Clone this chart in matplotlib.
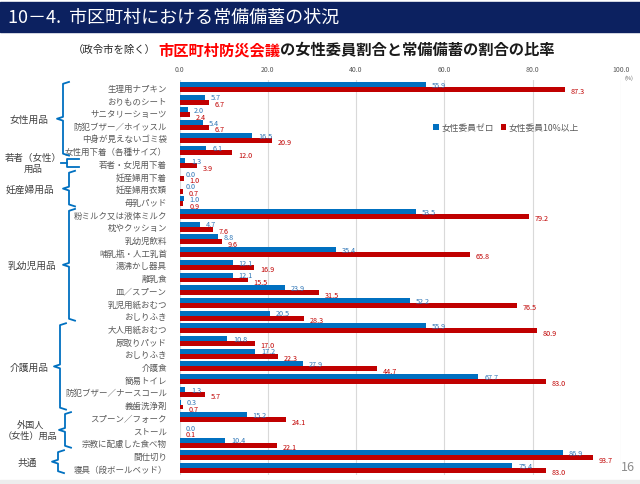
import matplotlib.pyplot as plt
import matplotlib.patches as patches
import numpy as np

plt.rcParams['font.family'] = ['Noto Sans CJK JP', 'DejaVu Sans']

items = ['生理用ナプキン', 'おりものシート', 'サニタリーショーツ', '防犯ブザー／ホイッスル',
         '中身が見えないゴミ袋', '女性用下着（各種サイズ）', '若者・女児用下着',
         '妊産婦用下着', '妊産婦用衣類', '母乳パッド',
         '粉ミルク又は液体ミルク', '枕やクッション', '乳幼児飲料', '哺乳瓶・人工乳首',
         '湯沸かし器具', '離乳食', '皿／スプーン', '乳児用紙おむつ', 'おしりふき',
         '大人用紙おむつ', '尿取りパッド', 'おしりふき', '介護食', '簡易トイレ',
         '防犯ブザー／ナースコール', '義歯洗浄剤',
         'スプーン／フォーク', 'ストール', '宗教に配慮した食べ物',
         '間仕切り', '寝具（段ボールベッド）']
zero_women = [55.9, 5.7, 2.0, 5.4, 16.5, 6.1, 1.3, 0.0, 0.0, 1.0,
              53.5, 4.7, 8.8, 35.4, 12.1, 12.1, 23.9, 52.2, 20.5,
              55.9, 10.8, 17.2, 27.9, 67.7, 1.3, 0.3,
              15.2, 0.0, 10.4, 86.9, 75.4]
over10_women = [87.3, 6.7, 2.4, 6.7, 20.9, 12.0, 3.9, 1.0, 0.7, 0.9,
                79.2, 7.6, 9.6, 65.8, 16.9, 15.5, 31.5, 76.5, 28.3,
                80.9, 17.0, 22.3, 44.7, 83.0, 5.7, 0.7,
                24.1, 0.1, 22.1, 93.7, 83.0]
# group name, first row, last row
groups = [('女性用品', 0, 5), ('若者（女性）\n用品', 6, 6), ('妊産婦用品', 7, 9),
          ('乳幼児用品', 10, 18), ('介護用品', 19, 25),
          ('外国人\n（女性）用品', 26, 28), ('共通', 29, 30)]
ticks = [0, 20, 40, 60, 80, 100]

BLUE = '#0070C0'
RED = '#C00000'

fig = plt.figure(figsize=(6.4, 4.85), dpi=100)

# header bar
fig.patches.append(patches.Rectangle((0, 1 - 33 / 485), 1, 30 / 485, transform=fig.transFigure,
                                     color='#0C2160', zorder=0))
fig.patches.append(patches.Rectangle((0, 0), 1, 4 / 485, transform=fig.transFigure,
                                     color='#EDEDED', zorder=0))
fig.text(8 / 640, 1 - 18 / 485, '10－4.  市区町村における常備備蓄の状況', color='white',
         fontsize=13, va='center', ha='left')
fig.text(628 / 640, 1 - 468 / 485, '16', fontsize=9, color='#8C8C8C', ha='center', va='center')

# subtitle in pieces
sub_y = 1 - 50 / 485
t1 = fig.text(73 / 640, sub_y, '（政令市を除く）', fontsize=7.5, color='#262626',
              va='center', ha='left')
t2 = fig.text(0, 0, '市区町村防災会議', fontsize=11, color='#FF0000', fontweight='bold')
t3 = fig.text(0, 0, 'の女性委員割合と常備備蓄の割合の比率', fontsize=11, color='#1A1A1A',
              fontweight='bold')
fig.canvas.draw()
r = fig.canvas.get_renderer()
bb1 = t1.get_window_extent(r)
t2.set_position(((bb1.x1 + 2) / 640, sub_y))
t2.set_va('center')
fig.canvas.draw()
bb2 = t2.get_window_extent(r)
t3.set_position((bb2.x1 / 640, sub_y))
t3.set_va('center')

ax = fig.add_axes([179.5 / 640, 1 - 476 / 485, 441.5 / 640, 395 / 485])
y = np.arange(len(items))
h = 0.39
ax.barh(y - h / 2, zero_women, height=h, color=BLUE, label='女性委員ゼロ', zorder=3)
ax.barh(y + h / 2, over10_women, height=h, color=RED, label='女性委員10%以上', zorder=3)

for i in range(len(items)):
    ax.text(zero_women[i] + 1.3, y[i] - h / 2 + 0.02, f'{zero_women[i]:.1f}', fontsize=5.2,
            color='#2E75B6', va='center', ha='left', zorder=4)
    ax.text(over10_women[i] + 1.3, y[i] + h / 2 + 0.15, f'{over10_women[i]:.1f}', fontsize=5.2,
            color=RED, va='center', ha='left', zorder=4)

ax.set_xlim(0, 100)
ax.set_ylim(len(items) - 0.45, -0.55)
ax.set_xticks(ticks)
ax.set_xticklabels([f'{t:.1f}' for t in ticks])
ax.xaxis.tick_top()
ax.tick_params(axis='x', length=0, labelsize=5, labelcolor='#595959', pad=5)
ax.set_yticks(y)
ax.set_yticklabels(items)
ax.tick_params(axis='y', length=0, labelsize=6.1, labelcolor='#595959', pad=9)
for t in ticks:
    ax.axvline(t, color='#D9D9D9', lw=0.8, zorder=1)
for s in ax.spines.values():
    s.set_visible(False)
ax.text(101.8, -0.75, '(%)', fontsize=4, color='#595959', ha='center', va='center')

ax.legend(loc='center', bbox_to_anchor=(0.74, 0.88), ncol=2, frameon=False, fontsize=6.3,
          handlelength=0.6, handleheight=0.6, handletextpad=0.3, columnspacing=0.8,
          labelcolor='#595959')

# braces and group labels
tr = ax.get_yaxis_transform()
px = 1 / 441.5
brace_x = {'女性用品': 63, '若者（女性）\n用品': 67, '妊産婦用品': 69, '乳幼児用品': 69,
           '介護用品': 60, '外国人\n（女性）用品': 65, '共通': 58}
label_x = {'女性用品': 29, '若者（女性）\n用品': 33, '妊産婦用品': 30, '乳幼児用品': 32,
           '介護用品': 29, '外国人\n（女性）用品': 30, '共通': 27}
label_size = {'外国人\n（女性）用品': 6.6, '若者（女性）\n用品': 6.8}
for name, a, b in groups:
    bx = (brace_x[name] - 179.5) * px
    d = 6 * px
    top = a - 0.4
    bot = b + 0.4
    mid = (a + b) / 2
    if a == b:
        ax.plot([bx + 2 * d, bx, bx, bx + 2 * d], [top + 0.1, top + 0.1, bot - 0.1, bot - 0.1],
                transform=tr, color=BLUE, lw=1.3, clip_on=False)
        ax.plot([bx, bx - d], [mid, mid], transform=tr, color=BLUE, lw=1.3, clip_on=False)
    else:
        xs = [bx + d, bx, bx, bx - d, bx, bx, bx + d]
        ys = [top, top + 0.15, mid - 0.15, mid, mid + 0.15, bot - 0.15, bot]
        ax.plot(xs, ys, transform=tr, color=BLUE, lw=1.3, clip_on=False)
    lx = (label_x[name] - 179.5) * px
    ax.text(lx, mid, name, transform=tr, fontsize=label_size.get(name, 7), color='#404040',
            ha='center', va='center', linespacing=1.2, clip_on=False)

fig.savefig('out.png', dpi=100)
